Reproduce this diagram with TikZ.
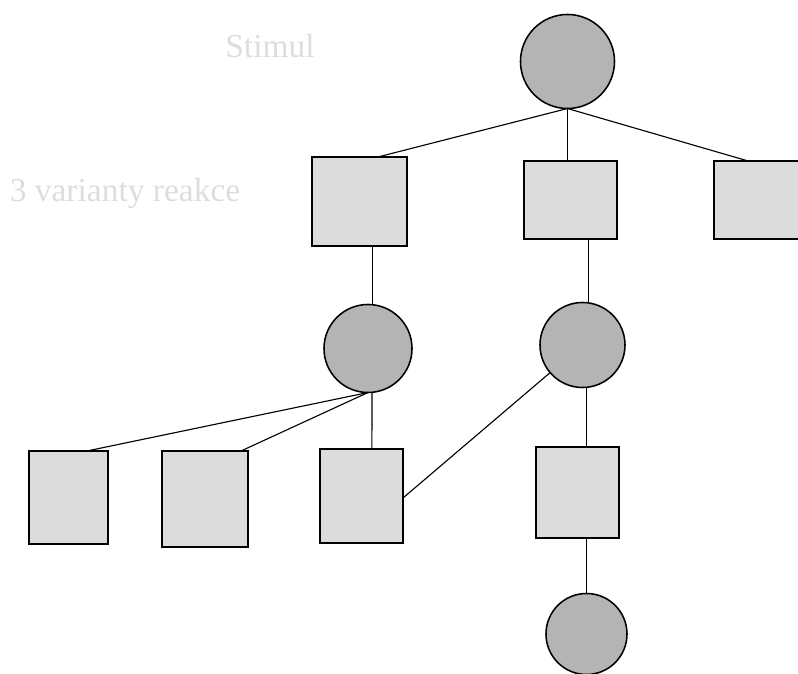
\documentclass[tikz,border=0pt]{standalone}
\usepackage{fontspec}
\setmainfont{Liberation Serif}
\usepackage{tikz}
\usetikzlibrary{calc}

\definecolor{popis}{RGB}{224,220,220}
\definecolor{stavfill}{RGB}{180,180,180}
\definecolor{reakcefill}{RGB}{220,220,220}

\begin{document}
\begin{tikzpicture}[x=0.025cm, y=-0.025cm, line width=0.8pt,
  stav/.style={draw, circle, line width=1.1pt, fill=stavfill, inner sep=0pt, outer sep=0pt},
  reakce/.style={draw, rectangle, line width=1.1pt, fill=reakcefill, inner sep=0pt, outer sep=0pt},
  popisek/.style={text=popis, font=\fontsize{23.8}{27}\selectfont}]
  \useasboundingbox (0,0) rectangle (798,674);
  \clip (0,0) rectangle (798,674);

  % popisky vlevo
  \node[popisek] (tstim) at (270,46) {Stimul};
  \node[popisek] (tvar) at (125,194) {3 varianty reakce};

  % stimul a tri varianty
  \node[stav, minimum size=2.35cm] (c0) at (567.5,61.5) {};
  \node[reakce, minimum width=2.375cm, minimum height=2.225cm] (b1) at (359.5,201.5) {};
  \node[reakce, minimum width=2.325cm, minimum height=1.95cm] (b2) at (570.5,200) {};
  \node[reakce, minimum width=2.325cm, minimum height=1.95cm] (b3) at (760.5,200) {};

  % druha uroven
  \node[stav, minimum size=2.2cm] (c1) at (368,348.5) {};
  \node[stav, minimum size=2.125cm] (c2) at (582.5,345) {};
  \node[reakce, minimum width=1.975cm, minimum height=2.325cm] (b4) at (68.5,497.5) {};
  \node[reakce, minimum width=2.15cm, minimum height=2.4cm] (b5) at (205,499) {};
  \node[reakce, minimum width=2.075cm, minimum height=2.35cm] (b6) at (361.5,496) {};
  \node[reakce, minimum width=2.075cm, minimum height=2.275cm] (b7) at (577.5,492.5) {};
  \node[stav, minimum size=2.025cm] (c3) at (586.5,634) {};

  \draw (c0.south) -- ([xshift=0.46cm]b1.north);
  \draw (c0.south) -- (c0.south |- b2.north);
  \draw (c0.south) -- ([xshift=-0.31cm]b3.north);

  \draw ([xshift=0.12cm]c1.north) -- ([xshift=0.12cm]c1.north |- b1.south);
  \draw ([xshift=0.14cm]c2.north) -- ([xshift=0.14cm]c2.north |- b2.south);

  \draw (c1.south) -- ([xshift=0.46cm]b4.north);
  \draw (c1.south) -- ([xshift=0.9cm]b5.north);
  \draw ([xshift=0.1cm]c1.south) -- ([xshift=0.26cm]b6.north);
  \draw (c2) -- ([yshift=-0.05cm]b6.east);

  \draw (b7.north -| c3.north) -- (c3.north |- c2.south);
  \draw (b7.south -| c3.north) -- (c3.north);
\end{tikzpicture}
\end{document}
